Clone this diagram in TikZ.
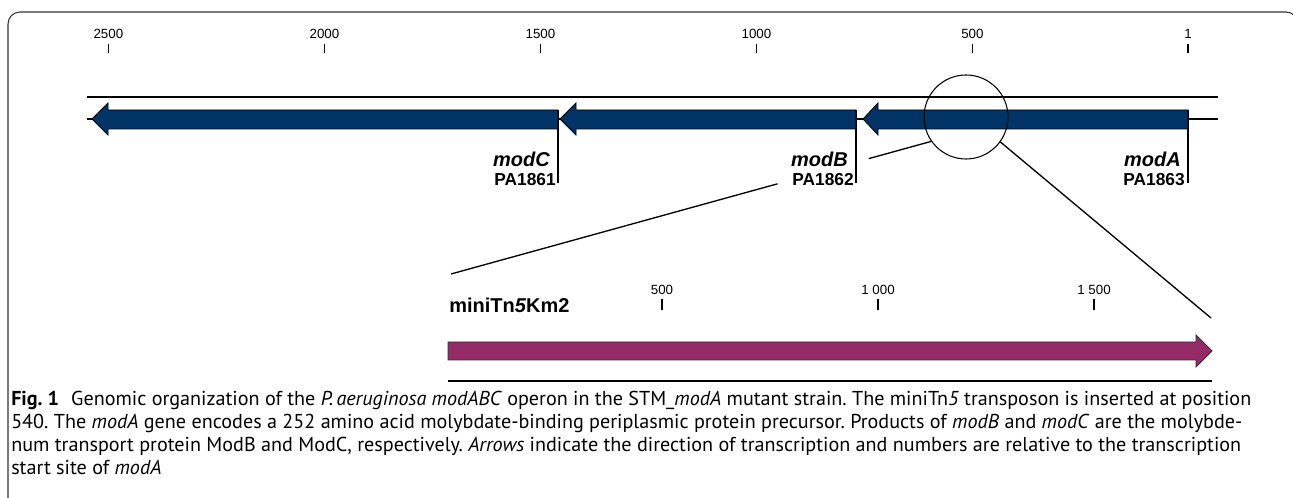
\documentclass[tikz,border=0pt]{standalone}
\usepackage{fontspec}
\setsansfont{Liberation Sans}
\newfontfamily\capfont{PT Sans}
\usetikzlibrary{calc}

\definecolor{genblue}{RGB}{0,51,102}
\definecolor{tnmagenta}{RGB}{148,43,102}

\tikzset{
  gene/.style={draw=black, line width=0.6pt, fill=genblue},
  insert/.style={draw=black!80, line width=0.6pt, fill=tnmagenta},
  dna/.style={line width=1.8pt},
  tickmark/.style={line width=0.9pt},
  ruler/.style={font=\sffamily\fontsize{10}{12}\selectfont, inner sep=0pt},
  genename/.style={font=\sffamily\bfseries\itshape\fontsize{15}{18}\selectfont, inner sep=0pt, anchor=east},
  locus/.style={font=\sffamily\bfseries\fontsize{13}{16}\selectfont, inner sep=0pt, anchor=east},
}

\begin{document}
\begin{tikzpicture}[x=0.75pt, y=-0.75pt]

    % Page of the reference size, one unit is one pixel, y runs downwards
    \path[use as bounding box, clip] (0,0) rectangle (1293,498);

    % Rounded frame, open at the right and at the bottom
    \draw[black!80, line width=0.8pt, rounded corners=9pt] (8,520) -- (8,12) -- (1298,12) -- (1298,520);

    % Position scale of the operon, position 1 at x=1188, 0.432 px per bp
    \foreach \pos in {2500,2000,1500,1000,500,1} {
        \pgfmathsetmacro{\xx}{1188-0.432*(\pos-1)}
        \node[ruler] (s\pos) at (\xx,34) {\pos};
        \draw[tickmark] ([yshift=-4pt]s\pos.south) -- ++(0,9);
    }

    % Upper strand and the line carrying the genes
    \draw[dna] (87,97) -- (1218,97);
    \draw[dna] (87,119) -- (1218,119);

    % The three genes, pointing to the left
    \foreach \tip/\back/\tail in {92/108/558, 560/576/856, 863/878/1188}
        \draw[gene] (\tail,110) -- (\back,110) -- (\back,103) -- (\tip,119)
            -- (\back,135) -- (\back,129) -- (\tail,129) -- cycle;

    % Gene ends marked by a line down to the labels
    \draw[line width=0.8pt] (558,110) -- (558,183);
    \draw[line width=0.8pt] (856,110) -- (856,183);
    \draw[line width=0.8pt] (1188,110) -- (1188,183);

    % Gene names and locus tags
    \node[genename] (modC) at (550,159) {modC};
    \node[locus] (pa1861) at (556,180) {PA1861};
    \node[genename] (modB) at (848,159) {modB};
    \node[locus] (pa1862) at (854,180) {PA1862};
    \node[genename] (modA) at (1181,159) {modA};
    \node[locus] (pa1863) at (1185,180) {PA1863};

    % Circle round the insertion site
    \node[circle, draw, line width=0.8pt, minimum size=63pt, inner sep=0pt] (lens) at (966,117) {};

    % Lines opening the view onto the insert
    \coordinate (insL) at (451,274);
    \coordinate (insR) at (1211,318);
    \draw[line width=1pt] (lens.215) -- ($(lens.215)!0.13!(insL)$);
    \draw[line width=1pt] ($(lens.215)!0.32!(insL)$) -- (insL);
    \draw[line width=1pt] (lens.-36) -- (insR);

    % Name of the transposon
    \node[font=\sffamily\bfseries\fontsize{15}{18}\selectfont, anchor=west, inner sep=0pt] (tn) at (449,305) {miniTn\textit{5}Km2};

    % Position scale of the insert
    \foreach \pos/\lab in {500/500, 1000/1 000, 1500/1 500} {
        \pgfmathsetmacro{\xx}{446+0.432*\pos}
        \node[ruler] (t\pos) at (\xx,290) {\lab};
        \draw[tickmark] ([yshift=-3pt]t\pos.south) -- ++(0,11);
    }

    % The insert, pointing to the right, and its strand
    \draw[insert] (448,342) -- (1196,342) -- (1196,335) -- (1212,351)
        -- (1196,367) -- (1196,360) -- (448,360) -- cycle;
    \draw[dna] (448,381) -- (1212,381);

    % Caption
    \node[anchor=north west, align=left, inner sep=0pt,
          font=\capfont\fontsize{15.1}{17.25}\selectfont\frenchspacing] (cap) at (11,391)
        {\textbf{Fig. 1}\hspace{0.6em}Genomic organization of the \textit{P.\,aeruginosa modABC} operon in the STM\_\textit{modA} mutant strain. The miniTn\textit{5} transposon is inserted at position\\
         540. The \textit{modA} gene encodes a 252 amino acid molybdate-binding periplasmic protein precursor. Products of \textit{modB} and \textit{modC} are the molybde-\\
         num transport protein ModB and ModC, respectively. \textit{Arrows} indicate the direction of transcription and numbers are relative to the transcription\\
         start site of \textit{modA}};

\end{tikzpicture}
\end{document}
